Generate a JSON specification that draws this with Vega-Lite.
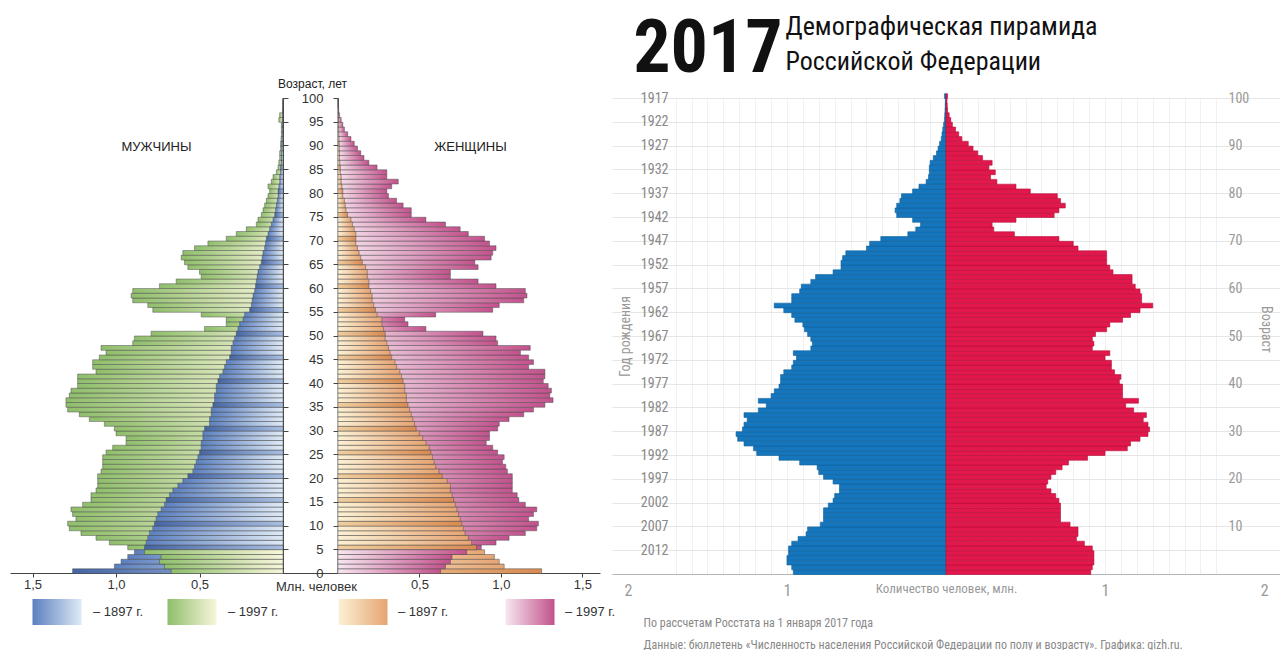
{
"$schema": "https://vega.github.io/schema/vega-lite/v6.json",
"background": "white",
"padding": {"left": 10, "top": 12, "right": 0, "bottom": 0},
"bounds": "flush",
"spacing": 12,
"config": {"view": {"stroke": null}, "font": "Liberation Sans"},
"datasets": {
"old": [
{"a":0,"m1897":1.26,"m1997":0.67,"f1897":1.25,"f1997":0.63},
{"a":1,"m1897":1.01,"m1997":0.71,"f1897":1.02,"f1997":0.66},
{"a":2,"m1897":0.97,"m1997":0.74,"f1897":0.99,"f1997":0.69},
{"a":3,"m1897":0.93,"m1997":0.73,"f1897":0.96,"f1997":0.70},
{"a":4,"m1897":0.89,"m1997":0.83,"f1897":0.90,"f1997":0.79},
{"a":5,"m1897":0.83,"m1997":0.93,"f1897":0.85,"f1997":0.88},
{"a":6,"m1897":0.82,"m1997":1.04,"f1897":0.82,"f1997":0.97},
{"a":7,"m1897":0.81,"m1997":1.12,"f1897":0.80,"f1997":1.05},
{"a":8,"m1897":0.80,"m1997":1.21,"f1897":0.78,"f1997":1.15},
{"a":9,"m1897":0.78,"m1997":1.28,"f1897":0.77,"f1997":1.22},
{"a":10,"m1897":0.77,"m1997":1.29,"f1897":0.76,"f1997":1.23},
{"a":11,"m1897":0.76,"m1997":1.24,"f1897":0.75,"f1997":1.17},
{"a":12,"m1897":0.75,"m1997":1.26,"f1897":0.74,"f1997":1.20},
{"a":13,"m1897":0.73,"m1997":1.27,"f1897":0.73,"f1997":1.22},
{"a":14,"m1897":0.71,"m1997":1.20,"f1897":0.72,"f1997":1.15},
{"a":15,"m1897":0.70,"m1997":1.15,"f1897":0.71,"f1997":1.11},
{"a":16,"m1897":0.68,"m1997":1.15,"f1897":0.70,"f1997":1.10},
{"a":17,"m1897":0.66,"m1997":1.12,"f1897":0.69,"f1997":1.07},
{"a":18,"m1897":0.63,"m1997":1.11,"f1897":0.69,"f1997":1.07},
{"a":19,"m1897":0.60,"m1997":1.11,"f1897":0.67,"f1997":1.07},
{"a":20,"m1897":0.57,"m1997":1.11,"f1897":0.64,"f1997":1.07},
{"a":21,"m1897":0.54,"m1997":1.09,"f1897":0.62,"f1997":1.04},
{"a":22,"m1897":0.53,"m1997":1.08,"f1897":0.60,"f1997":1.03},
{"a":23,"m1897":0.52,"m1997":1.08,"f1897":0.59,"f1997":1.01},
{"a":24,"m1897":0.51,"m1997":1.08,"f1897":0.58,"f1997":1.02},
{"a":25,"m1897":0.50,"m1997":1.06,"f1897":0.57,"f1997":0.98},
{"a":26,"m1897":0.49,"m1997":1.02,"f1897":0.56,"f1997":0.95},
{"a":27,"m1897":0.49,"m1997":0.94,"f1897":0.54,"f1997":0.91},
{"a":28,"m1897":0.48,"m1997":0.94,"f1897":0.52,"f1997":0.93},
{"a":29,"m1897":0.48,"m1997":1.00,"f1897":0.50,"f1997":0.93},
{"a":30,"m1897":0.47,"m1997":1.01,"f1897":0.48,"f1997":0.98},
{"a":31,"m1897":0.44,"m1997":1.07,"f1897":0.47,"f1997":0.99},
{"a":32,"m1897":0.44,"m1997":1.16,"f1897":0.46,"f1997":1.05},
{"a":33,"m1897":0.43,"m1997":1.22,"f1897":0.45,"f1997":1.14},
{"a":34,"m1897":0.43,"m1997":1.29,"f1897":0.44,"f1997":1.20},
{"a":35,"m1897":0.42,"m1997":1.30,"f1897":0.43,"f1997":1.27},
{"a":36,"m1897":0.41,"m1997":1.30,"f1897":0.42,"f1997":1.32},
{"a":37,"m1897":0.41,"m1997":1.28,"f1897":0.42,"f1997":1.30},
{"a":38,"m1897":0.40,"m1997":1.27,"f1897":0.41,"f1997":1.31},
{"a":39,"m1897":0.40,"m1997":1.23,"f1897":0.41,"f1997":1.29},
{"a":40,"m1897":0.39,"m1997":1.23,"f1897":0.40,"f1997":1.26},
{"a":41,"m1897":0.38,"m1997":1.23,"f1897":0.39,"f1997":1.27},
{"a":42,"m1897":0.36,"m1997":1.12,"f1897":0.38,"f1997":1.27},
{"a":43,"m1897":0.35,"m1997":1.14,"f1897":0.36,"f1997":1.17},
{"a":44,"m1897":0.34,"m1997":1.14,"f1897":0.35,"f1997":1.20},
{"a":45,"m1897":0.32,"m1997":1.10,"f1897":0.33,"f1997":1.17},
{"a":46,"m1897":0.31,"m1997":1.06,"f1897":0.32,"f1997":1.12},
{"a":47,"m1897":0.31,"m1997":1.09,"f1897":0.31,"f1997":1.18},
{"a":48,"m1897":0.30,"m1997":0.90,"f1897":0.30,"f1997":0.98},
{"a":49,"m1897":0.29,"m1997":0.89,"f1897":0.29,"f1997":0.97},
{"a":50,"m1897":0.28,"m1997":0.79,"f1897":0.29,"f1997":0.89},
{"a":51,"m1897":0.27,"m1997":0.47,"f1897":0.28,"f1997":0.54},
{"a":52,"m1897":0.26,"m1997":0.34,"f1897":0.27,"f1997":0.43},
{"a":53,"m1897":0.24,"m1997":0.34,"f1897":0.27,"f1997":0.41},
{"a":54,"m1897":0.23,"m1997":0.49,"f1897":0.24,"f1997":0.60},
{"a":55,"m1897":0.20,"m1997":0.78,"f1897":0.23,"f1997":0.95},
{"a":56,"m1897":0.19,"m1997":0.81,"f1897":0.22,"f1997":0.99},
{"a":57,"m1897":0.185,"m1997":0.90,"f1897":0.21,"f1997":1.14},
{"a":58,"m1897":0.18,"m1997":0.91,"f1897":0.21,"f1997":1.16},
{"a":59,"m1897":0.17,"m1997":0.90,"f1897":0.20,"f1997":1.15},
{"a":60,"m1897":0.165,"m1997":0.74,"f1897":0.19,"f1997":0.97},
{"a":61,"m1897":0.16,"m1997":0.64,"f1897":0.19,"f1997":0.86},
{"a":62,"m1897":0.155,"m1997":0.49,"f1897":0.18,"f1997":0.69},
{"a":63,"m1897":0.15,"m1997":0.50,"f1897":0.18,"f1997":0.69},
{"a":64,"m1897":0.14,"m1997":0.57,"f1897":0.17,"f1997":0.86},
{"a":65,"m1897":0.13,"m1997":0.59,"f1897":0.15,"f1997":0.84},
{"a":66,"m1897":0.125,"m1997":0.61,"f1897":0.14,"f1997":0.94},
{"a":67,"m1897":0.12,"m1997":0.60,"f1897":0.13,"f1997":0.95},
{"a":68,"m1897":0.11,"m1997":0.53,"f1897":0.12,"f1997":0.97},
{"a":69,"m1897":0.105,"m1997":0.45,"f1897":0.11,"f1997":0.93},
{"a":70,"m1897":0.10,"m1997":0.34,"f1897":0.11,"f1997":0.90},
{"a":71,"m1897":0.09,"m1997":0.28,"f1897":0.11,"f1997":0.80},
{"a":72,"m1897":0.08,"m1997":0.22,"f1897":0.10,"f1997":0.75},
{"a":73,"m1897":0.07,"m1997":0.16,"f1897":0.09,"f1997":0.66},
{"a":74,"m1897":0.06,"m1997":0.15,"f1897":0.08,"f1997":0.54},
{"a":75,"m1897":0.05,"m1997":0.13,"f1897":0.06,"f1997":0.45},
{"a":76,"m1897":0.045,"m1997":0.12,"f1897":0.05,"f1997":0.45},
{"a":77,"m1897":0.04,"m1997":0.11,"f1897":0.045,"f1997":0.40},
{"a":78,"m1897":0.035,"m1997":0.10,"f1897":0.04,"f1997":0.36},
{"a":79,"m1897":0.03,"m1997":0.09,"f1897":0.03,"f1997":0.31},
{"a":80,"m1897":0.03,"m1997":0.08,"f1897":0.03,"f1997":0.30},
{"a":81,"m1897":0.025,"m1997":0.09,"f1897":0.025,"f1997":0.33},
{"a":82,"m1897":0.02,"m1997":0.07,"f1897":0.02,"f1997":0.37},
{"a":83,"m1897":0.02,"m1997":0.06,"f1897":0.02,"f1997":0.30},
{"a":84,"m1897":0.015,"m1997":0.04,"f1897":0.015,"f1997":0.30},
{"a":85,"m1897":0.015,"m1997":0.03,"f1897":0.015,"f1997":0.24},
{"a":86,"m1897":0.01,"m1997":0.025,"f1897":0.012,"f1997":0.19},
{"a":87,"m1897":0.01,"m1997":0.02,"f1897":0.01,"f1997":0.16},
{"a":88,"m1897":0.01,"m1997":0.02,"f1897":0.01,"f1997":0.14},
{"a":89,"m1897":0.008,"m1997":0.015,"f1897":0.009,"f1997":0.12},
{"a":90,"m1897":0.008,"m1997":0.015,"f1897":0.008,"f1997":0.10},
{"a":91,"m1897":0.006,"m1997":0.012,"f1897":0.007,"f1997":0.08},
{"a":92,"m1897":0.005,"m1997":0.01,"f1897":0.006,"f1997":0.06},
{"a":93,"m1897":0.005,"m1997":0.01,"f1897":0.005,"f1997":0.04},
{"a":94,"m1897":0.004,"m1997":0.01,"f1897":0.005,"f1997":0.03},
{"a":95,"m1897":0.004,"m1997":0.025,"f1897":0.004,"f1997":0.02},
{"a":96,"m1897":0.003,"m1997":0.02,"f1897":0.003,"f1997":0.01},
{"a":97,"m1897":0.003,"m1997":0,"f1897":0.003,"f1997":0.005},
{"a":98,"m1897":0.002,"m1997":0,"f1897":0.002,"f1997":0},
{"a":99,"m1897":0.002,"m1997":0,"f1897":0.002,"f1997":0}
],
"new": [
{"a":0,"m":0.96,"f":0.91},{"a":1,"m":0.97,"f":0.92},{"a":2,"m":1.00,"f":0.93},{"a":3,"m":1.00,"f":0.93},{"a":4,"m":0.99,"f":0.93},
{"a":5,"m":0.99,"f":0.92},{"a":6,"m":0.97,"f":0.87},{"a":7,"m":0.93,"f":0.82},{"a":8,"m":0.88,"f":0.83},{"a":9,"m":0.87,"f":0.83},
{"a":10,"m":0.79,"f":0.78},{"a":11,"m":0.77,"f":0.72},{"a":12,"m":0.77,"f":0.72},{"a":13,"m":0.77,"f":0.72},{"a":14,"m":0.74,"f":0.72},
{"a":15,"m":0.71,"f":0.71},{"a":16,"m":0.70,"f":0.69},{"a":17,"m":0.67,"f":0.66},{"a":18,"m":0.67,"f":0.63},{"a":19,"m":0.71,"f":0.64},
{"a":20,"m":0.77,"f":0.66},{"a":21,"m":0.80,"f":0.69},{"a":22,"m":0.81,"f":0.73},{"a":23,"m":0.92,"f":0.77},{"a":24,"m":1.05,"f":0.89},
{"a":25,"m":1.19,"f":1.00},{"a":26,"m":1.21,"f":1.14},{"a":27,"m":1.27,"f":1.16},{"a":28,"m":1.31,"f":1.22},{"a":29,"m":1.32,"f":1.27},
{"a":30,"m":1.28,"f":1.28},{"a":31,"m":1.27,"f":1.27},{"a":32,"m":1.25,"f":1.24},{"a":33,"m":1.27,"f":1.26},{"a":34,"m":1.18,"f":1.18},
{"a":35,"m":1.13,"f":1.13},{"a":36,"m":1.18,"f":1.21},{"a":37,"m":1.10,"f":1.11},{"a":38,"m":1.08,"f":1.11},{"a":39,"m":1.05,"f":1.11},
{"a":40,"m":1.04,"f":1.09},{"a":41,"m":1.04,"f":1.10},{"a":42,"m":1.02,"f":1.06},{"a":43,"m":0.97,"f":1.04},{"a":44,"m":0.96,"f":1.04},
{"a":45,"m":0.94,"f":1.00},{"a":46,"m":0.96,"f":1.03},{"a":47,"m":0.85,"f":0.92},{"a":48,"m":0.84,"f":0.93},{"a":49,"m":0.85,"f":0.92},
{"a":50,"m":0.87,"f":0.94},{"a":51,"m":0.89,"f":1.01},{"a":52,"m":0.90,"f":1.03},{"a":53,"m":0.95,"f":1.11},{"a":54,"m":0.97,"f":1.16},
{"a":55,"m":1.02,"f":1.22},{"a":56,"m":1.08,"f":1.30},{"a":57,"m":0.97,"f":1.23},{"a":58,"m":0.97,"f":1.23},{"a":59,"m":0.92,"f":1.22},
{"a":60,"m":0.91,"f":1.19},{"a":61,"m":0.85,"f":1.17},{"a":62,"m":0.82,"f":1.17},{"a":63,"m":0.71,"f":1.05},{"a":64,"m":0.66,"f":1.03},
{"a":65,"m":0.66,"f":1.01},{"a":66,"m":0.65,"f":1.01},{"a":67,"m":0.63,"f":1.01},{"a":68,"m":0.50,"f":0.83},{"a":69,"m":0.48,"f":0.80},
{"a":70,"m":0.41,"f":0.71},{"a":71,"m":0.24,"f":0.43},{"a":72,"m":0.19,"f":0.30},{"a":73,"m":0.16,"f":0.29},{"a":74,"m":0.21,"f":0.44},
{"a":75,"m":0.31,"f":0.68},{"a":76,"m":0.32,"f":0.71},{"a":77,"m":0.31,"f":0.75},{"a":78,"m":0.29,"f":0.72},{"a":79,"m":0.28,"f":0.70},
{"a":80,"m":0.21,"f":0.53},{"a":81,"m":0.17,"f":0.44},{"a":82,"m":0.125,"f":0.32},{"a":83,"m":0.11,"f":0.28},{"a":84,"m":0.105,"f":0.31},
{"a":85,"m":0.105,"f":0.27},{"a":86,"m":0.10,"f":0.29},{"a":87,"m":0.08,"f":0.23},{"a":88,"m":0.06,"f":0.20},{"a":89,"m":0.05,"f":0.17},
{"a":90,"m":0.04,"f":0.14},{"a":91,"m":0.03,"f":0.10},{"a":92,"m":0.025,"f":0.08},{"a":93,"m":0.02,"f":0.06},{"a":94,"m":0.015,"f":0.04},
{"a":95,"m":0.01,"f":0.03},{"a":96,"m":0.008,"f":0.02},{"a":97,"m":0.006,"f":0.01},{"a":98,"m":0.005,"f":0.008},{"a":99,"m":0.004,"f":0.006},
{"a":100,"m":0.01,"f":0.01}
]
},
"hconcat": [
{
"width": 590,
"height": 475,
"data": {"name": "old"},
"layer": [
{
"mark": {"type": "bar", "stroke": "#4d4d4d", "strokeWidth": 0.5, "binSpacing": 0},
"encoding": {
"y": {"field": "a", "type": "quantitative", "bin": {"binned": true, "step": 1}, "scale": {"domain": [0, 100], "nice": false, "zero": false},
"axis": {"orient": "right", "offset": -317, "values": [0,5,10,15,20,25,30,35,40,45,50,55,60,65,70,75,80,85,90,95,100], "labels": false, "ticks": true, "tickSize": 5, "tickColor": "#444", "domain": true, "domainColor": "#444", "grid": false,
"title": "ЖЕНЩИНЫ", "titleAngle": 0, "titleX": 187, "titleY": 48, "titleAlign": "center", "titleBaseline": "middle", "titleFontSize": 13, "titleFontWeight": "normal", "titleColor": "#222", "titleFont": "Liberation Sans"}},
"x": {"field": "m1997", "type": "quantitative", "stack": null, "scale": {"domain": [-1.898, 1.635], "reverse": true, "nice": false, "zero": false},
"axis": {"orient": "bottom", "values": [0.5, 1, 1.5], "labelExpr": "replace(format(datum.value, '.1f'), '.', ',')", "tickSize": 4, "tickColor": "#444", "domain": true, "domainColor": "#444", "grid": false, "labelFontSize": 13, "labelColor": "#333", "labelPadding": 1, "labelFlush": false, "labelFont": "Liberation Sans",
"title": "МУЖЧИНЫ", "titleX": 146, "titleY": -427, "titleAlign": "center", "titleBaseline": "middle", "titleFontSize": 13, "titleFontWeight": "normal", "titleColor": "#222", "titleFont": "Liberation Sans"}},
"x2": {"datum": 0},
"fill": {"value": {"gradient": "linear", "x1": 0, "y1": 0, "x2": 1, "y2": 0, "stops": [{"offset": 0, "color": "#8fbe6b"}, {"offset": 1, "color": "#f7f6da"}]}},
"strokeDash": {"datum": "– 1997 г.", "scale": {"range": [[1, 0]]},
"legend": {"orient": "none", "legendX": 157, "legendY": 500, "title": null, "padding": 0, "clipHeight": 28, "symbolType": "M-1,-0.53L1,-0.53L1,0.53L-1,0.53Z", "symbolSize": 2401, "symbolStrokeColor": "#777", "symbolStrokeWidth": 1, "labelOffset": 11, "labelFontSize": 13, "labelColor": "#333", "labelFont": "Liberation Sans"}}
}
},
{
"mark": {"type": "bar", "stroke": "#4d4d4d", "strokeWidth": 0.5, "binSpacing": 0},
"encoding": {
"y": {"field": "a", "type": "quantitative", "bin": {"binned": true, "step": 1}, "scale": {"domain": [0, 100], "nice": false, "zero": false}, "axis": null},
"x": {"field": "m1897", "type": "quantitative", "stack": null, "scale": {"domain": [-1.898, 1.635], "reverse": true, "nice": false, "zero": false}, "axis": null},
"x2": {"datum": 0},
"fill": {"condition": {"test": "datum.a % 5 === 0", "value": {"gradient": "linear", "x1": 0, "y1": 0, "x2": 1, "y2": 0, "stops": [{"offset": 0, "color": "#4565a3"}, {"offset": 1, "color": "#a9bfe2"}]}},
"value": {"gradient": "linear", "x1": 0, "y1": 0, "x2": 1, "y2": 0, "stops": [{"offset": 0, "color": "#5b7fbf"}, {"offset": 1, "color": "#dfeaf6"}]}},
"strokeDash": {"datum": "– 1897 г.", "scale": {"range": [[1, 0]]},
"legend": {"orient": "none", "legendX": 22, "legendY": 500, "title": null, "padding": 0, "clipHeight": 28, "symbolType": "M-1,-0.53L1,-0.53L1,0.53L-1,0.53Z", "symbolSize": 2401, "symbolStrokeColor": "#777", "symbolStrokeWidth": 1, "labelOffset": 11, "labelFontSize": 13, "labelColor": "#333", "labelFont": "Liberation Sans"}}
}
},
{
"transform": [{"filter": "datum.a < 5"}],
"mark": {"type": "bar", "stroke": "#4d4d4d", "strokeWidth": 0.5, "binSpacing": 0},
"encoding": {
"y": {"field": "a", "type": "quantitative", "bin": {"binned": true, "step": 1}, "scale": {"domain": [0, 100], "nice": false, "zero": false}, "axis": null},
"x": {"field": "m1997", "type": "quantitative", "stack": null, "scale": {"domain": [-1.898, 1.635], "reverse": true, "nice": false, "zero": false}, "axis": null},
"x2": {"datum": 0},
"fill": {"value": {"gradient": "linear", "x1": 0, "y1": 0, "x2": 1, "y2": 0, "stops": [{"offset": 0, "color": "#8fbe6b"}, {"offset": 1, "color": "#f7f6da"}]}}
}
},
{
"mark": {"type": "bar", "stroke": "#4d4d4d", "strokeWidth": 0.5, "binSpacing": 0},
"encoding": {
"y": {"field": "a", "type": "quantitative", "bin": {"binned": true, "step": 1}, "scale": {"domain": [0, 100], "nice": false, "zero": false},
"axis": {"orient": "left", "offset": -328, "values": [0,5,10,15,20,25,30,35,40,45,50,55,60,65,70,75,80,85,90,95,100], "labels": true, "labelFontSize": 13, "labelColor": "#333", "labelFont": "Liberation Sans", "labelPadding": 10, "ticks": true, "tickSize": 5, "tickColor": "#444", "domain": true, "domainColor": "#444", "grid": false,
"title": "Возраст, лет", "titleAngle": 0, "titleX": -26, "titleY": -15, "titleAlign": "center", "titleBaseline": "middle", "titleFontSize": 12, "titleFontWeight": "normal", "titleColor": "#222", "titleFont": "Liberation Sans"}},
"x": {"field": "f1997", "type": "quantitative", "stack": null, "scale": {"domain": [-2.012, 1.608], "nice": false, "zero": false},
"axis": {"orient": "bottom", "values": [0.5, 1, 1.5], "labelExpr": "replace(format(datum.value, '.1f'), '.', ',')", "tickSize": 4, "tickColor": "#444", "domain": false, "grid": false, "labelFontSize": 13, "labelColor": "#333", "labelPadding": 1, "labelFlush": false, "labelFont": "Liberation Sans",
"title": "Млн. человек", "titleX": 306, "titleY": 7, "titleAlign": "center", "titleBaseline": "top", "titleFontSize": 13, "titleFontWeight": "normal", "titleColor": "#333", "titleFont": "Liberation Sans"}},
"x2": {"datum": 0},
"fill": {"value": {"gradient": "linear", "x1": 0, "y1": 0, "x2": 1, "y2": 0, "stops": [{"offset": 0, "color": "#f7e6f0"}, {"offset": 1, "color": "#c2528c"}]}},
"strokeDash": {"datum": "– 1997 г. ", "scale": {"range": [[1, 0]]},
"legend": {"orient": "none", "legendX": 495, "legendY": 500, "title": null, "padding": 0, "clipHeight": 28, "symbolType": "M-1,-0.53L1,-0.53L1,0.53L-1,0.53Z", "symbolSize": 2401, "symbolStrokeColor": "#777", "symbolStrokeWidth": 1, "labelOffset": 10, "labelFontSize": 13, "labelColor": "#333", "labelFont": "Liberation Sans"}}
}
},
{
"mark": {"type": "bar", "stroke": "#4d4d4d", "strokeWidth": 0.5, "binSpacing": 0},
"encoding": {
"y": {"field": "a", "type": "quantitative", "bin": {"binned": true, "step": 1}, "scale": {"domain": [0, 100], "nice": false, "zero": false}, "axis": null},
"x": {"field": "f1897", "type": "quantitative", "stack": null, "scale": {"domain": [-2.012, 1.608], "nice": false, "zero": false}, "axis": null},
"x2": {"datum": 0},
"fill": {"condition": {"test": "datum.a % 5 === 0", "value": {"gradient": "linear", "x1": 0, "y1": 0, "x2": 1, "y2": 0, "stops": [{"offset": 0, "color": "#f0cfa0"}, {"offset": 1, "color": "#d88a52"}]}},
"value": {"gradient": "linear", "x1": 0, "y1": 0, "x2": 1, "y2": 0, "stops": [{"offset": 0, "color": "#fcf1d4"}, {"offset": 1, "color": "#e6a473"}]}},
"strokeDash": {"datum": "– 1897 г. ", "scale": {"range": [[1, 0]]},
"legend": {"orient": "none", "legendX": 328, "legendY": 500, "title": null, "padding": 0, "clipHeight": 28, "symbolType": "M-1,-0.53L1,-0.53L1,0.53L-1,0.53Z", "symbolSize": 2401, "symbolStrokeColor": "#777", "symbolStrokeWidth": 1, "labelOffset": 10, "labelFontSize": 13, "labelColor": "#333", "labelFont": "Liberation Sans"}}
}
},
{
"transform": [{"filter": "datum.a < 5"}],
"mark": {"type": "bar", "stroke": "#4d4d4d", "strokeWidth": 0.5, "binSpacing": 0},
"encoding": {
"y": {"field": "a", "type": "quantitative", "bin": {"binned": true, "step": 1}, "scale": {"domain": [0, 100], "nice": false, "zero": false}, "axis": null},
"x": {"field": "f1997", "type": "quantitative", "stack": null, "scale": {"domain": [-2.012, 1.608], "nice": false, "zero": false}, "axis": null},
"x2": {"datum": 0},
"fill": {"value": {"gradient": "linear", "x1": 0, "y1": 0, "x2": 1, "y2": 0, "stops": [{"offset": 0, "color": "#f7e6f0"}, {"offset": 1, "color": "#c2528c"}]}}
}
}
],
"resolve": {"scale": {"x": "independent", "strokeDash": "independent"}, "axis": {"x": "independent", "y": "independent"}, "legend": {"strokeDash": "independent"}}
},
{
"width": 668,
"height": 476,
"data": {"name": "new"},
"layer": [
{
"mark": {"type": "bar", "fill": "#1576bd", "stroke": "#0f5f99", "strokeWidth": 0.6, "binSpacing": 0},
"encoding": {
"y": {"field": "a", "type": "quantitative", "bin": {"binned": true, "step": 1}, "scale": {"domain": [0, 100], "nice": false, "zero": false},
"axis": {"orient": "left", "offset": -60, "values": [5,10,15,20,25,30,35,40,45,50,55,60,65,70,75,80,85,90,95,100], "labelExpr": "2017 - datum.value", "labelFontSize": 14, "labelColor": "#888", "labelFont": "Liberation Sans Narrow, Roboto Condensed, DejaVu Sans Condensed, Roboto, sans-serif", "labelPadding": 4, "ticks": false, "tickSize": 0, "domain": false, "grid": true, "gridColor": "#e6e6e6", "gridWidth": 1,
"title": "Год рождения", "titleAngle": -90, "titleX": -47, "titleY": 238, "titleAlign": "center", "titleBaseline": "middle", "titleFontSize": 14, "titleFontWeight": "normal", "titleColor": "#999", "titleFont": "Liberation Sans Narrow, Roboto Condensed, DejaVu Sans Condensed, Roboto, sans-serif"}},
"x": {"field": "m", "type": "quantitative", "stack": null, "scale": {"domain": [-2.1, 2.1], "reverse": true, "nice": false, "zero": false},
"axis": {"orient": "bottom", "values": [-2, -1, 0, 1, 2], "labelExpr": "datum.value === 0 ? 'Количество человек, млн.' : format(abs(datum.value), 'd')", "labelFontSize": {"condition": {"test": "datum.value === 0", "value": 13}, "value": 16}, "labelColor": "#999", "labelFont": "Liberation Sans Narrow, Roboto Condensed, DejaVu Sans Condensed, Roboto, sans-serif", "labelPadding": 8, "labelOverlap": false, "labelFlush": false, "ticks": false, "tickSize": 0, "domain": true, "domainColor": "#b5b5b5", "grid": false,
"title": ["По рассчетам Росстата на 1 января 2017 года", "Данные: бюллетень «Численность населения Российской Федерации по полу и возрасту». Графика: gizh.ru."], "titleX": 31, "titleY": 52, "titleAlign": "left", "titleAnchor": "start", "titleBaseline": "alphabetic", "titleLineHeight": 22, "titleFontSize": 12, "titleFontWeight": "normal", "titleColor": "#888", "titleFont": "Liberation Sans Narrow, Roboto Condensed, DejaVu Sans Condensed, Roboto, sans-serif"}},
"x2": {"datum": 0}
}
},
{
"mark": {"type": "bar", "fill": "#e2184c", "stroke": "#b3103a", "strokeWidth": 0.6, "binSpacing": 0},
"encoding": {
"y": {"field": "a", "type": "quantitative", "bin": {"binned": true, "step": 1}, "scale": {"domain": [0, 100], "nice": false, "zero": false},
"axis": {"orient": "right", "offset": -55, "values": [10,20,30,40,50,60,70,80,90,100], "labelFontSize": 14, "labelColor": "#999", "labelFont": "Liberation Sans Narrow, Roboto Condensed, DejaVu Sans Condensed, Roboto, sans-serif", "labelPadding": 3, "ticks": false, "tickSize": 0, "domain": false, "grid": false,
"title": "Возраст", "titleAngle": 90, "titleX": 40, "titleY": 231, "titleAlign": "center", "titleBaseline": "middle", "titleFontSize": 14, "titleFontWeight": "normal", "titleColor": "#999", "titleFont": "Liberation Sans Narrow, Roboto Condensed, DejaVu Sans Condensed, Roboto, sans-serif"}},
"x": {"field": "f", "type": "quantitative", "stack": null, "scale": {"domain": [-2.1, 2.1], "nice": false, "zero": false},
"axis": {"orient": "top", "values": [-1.7,-1.6,-1.5,-1.4,-1.3,-1.2,-1.1,-1,-0.9,-0.8,-0.7,-0.6,-0.5,-0.4,-0.3,-0.2,-0.1,0,0.1,0.2,0.3,0.4,0.5,0.6,0.7,0.8,0.9,1,1.1,1.2,1.3,1.4,1.5,1.6,1.7], "labelExpr": "datum.value === -1.5 ? '2017' : ''", "labelFontSize": 74, "labelFontWeight": "bold", "labelColor": "#111", "labelFont": "Liberation Sans Narrow, Roboto Condensed, DejaVu Sans Condensed, Roboto, sans-serif", "labelBaseline": "alphabetic", "labelPadding": 27, "labelDx": -6, "labelOverlap": false, "labelFlush": false, "labelBound": false, "ticks": false, "tickSize": 0, "domain": false, "grid": true, "gridColor": "#f0f0f0", "gridWidth": 1,
"title": ["Демографическая пирамида", "Российской Федерации"], "titleX": 173, "titleY": -64, "titleAlign": "left", "titleAnchor": "start", "titleBaseline": "alphabetic", "titleLineHeight": 35, "titleFontSize": 26, "titleFontWeight": "normal", "titleColor": "#111", "titleFont": "Liberation Sans Narrow, Roboto Condensed, DejaVu Sans Condensed, Roboto, sans-serif"}},
"x2": {"datum": 0}
}
}
],
"resolve": {"scale": {"x": "independent"}, "axis": {"x": "independent", "y": "independent"}}
}
]
}
